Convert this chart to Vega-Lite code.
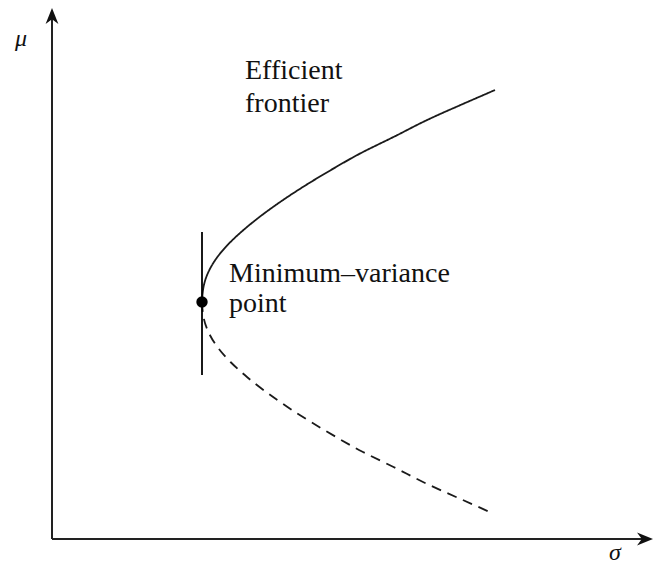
{
  "$schema": "https://vega.github.io/schema/vega-lite/v6.json",
  "width": 600,
  "height": 530,
  "autosize": {"type": "none"},
  "padding": {"left": 52, "top": 9, "right": 3, "bottom": 28},
  "background": "white",
  "config": {"view": {"stroke": null}, "text": {"font": "Liberation Serif"}},
  "datasets": {
    "curve": [
      {"sigma": 1.500, "mu": 2.37, "branch": "efficient", "ord": 0},
      {"sigma": 1.515, "mu": 2.52, "branch": "efficient", "ord": 1},
      {"sigma": 1.564, "mu": 2.67, "branch": "efficient", "ord": 2},
      {"sigma": 1.654, "mu": 2.82, "branch": "efficient", "ord": 3},
      {"sigma": 1.785, "mu": 2.97, "branch": "efficient", "ord": 4},
      {"sigma": 1.950, "mu": 3.12, "branch": "efficient", "ord": 5},
      {"sigma": 2.141, "mu": 3.27, "branch": "efficient", "ord": 6},
      {"sigma": 2.355, "mu": 3.42, "branch": "efficient", "ord": 7},
      {"sigma": 2.589, "mu": 3.57, "branch": "efficient", "ord": 8},
      {"sigma": 2.841, "mu": 3.72, "branch": "efficient", "ord": 9},
      {"sigma": 3.110, "mu": 3.87, "branch": "efficient", "ord": 10},
      {"sigma": 3.415, "mu": 4.02, "branch": "efficient", "ord": 11},
      {"sigma": 3.710, "mu": 4.17, "branch": "efficient", "ord": 12},
      {"sigma": 4.040, "mu": 4.32, "branch": "efficient", "ord": 13},
      {"sigma": 4.430, "mu": 4.49, "branch": "efficient", "ord": 14},
      {"sigma": 1.500, "mu": 2.37, "branch": "inefficient", "ord": 0},
      {"sigma": 1.515, "mu": 2.22, "branch": "inefficient", "ord": 1},
      {"sigma": 1.564, "mu": 2.07, "branch": "inefficient", "ord": 2},
      {"sigma": 1.654, "mu": 1.92, "branch": "inefficient", "ord": 3},
      {"sigma": 1.785, "mu": 1.77, "branch": "inefficient", "ord": 4},
      {"sigma": 1.950, "mu": 1.62, "branch": "inefficient", "ord": 5},
      {"sigma": 2.141, "mu": 1.47, "branch": "inefficient", "ord": 6},
      {"sigma": 2.355, "mu": 1.32, "branch": "inefficient", "ord": 7},
      {"sigma": 2.589, "mu": 1.17, "branch": "inefficient", "ord": 8},
      {"sigma": 2.841, "mu": 1.02, "branch": "inefficient", "ord": 9},
      {"sigma": 3.110, "mu": 0.87, "branch": "inefficient", "ord": 10},
      {"sigma": 3.415, "mu": 0.72, "branch": "inefficient", "ord": 11},
      {"sigma": 3.710, "mu": 0.57, "branch": "inefficient", "ord": 12},
      {"sigma": 4.040, "mu": 0.42, "branch": "inefficient", "ord": 13},
      {"sigma": 4.400, "mu": 0.26, "branch": "inefficient", "ord": 14}
    ],
    "axes": [
      {"sigma": 0, "mu": 0, "sigma2": 5.95, "mu2": 0},
      {"sigma": 0, "mu": 0, "sigma2": 0, "mu2": 5.25}
    ],
    "arrowUp": [{"sigma": 0, "mu": 5.31}],
    "arrowRight": [{"sigma": 6.01, "mu": 0}],
    "tangent": [{"sigma": 1.50, "mu": 1.64, "mu2": 3.07}],
    "minpoint": [{"sigma": 1.50, "mu": 2.37}],
    "labels": [
      {"sigma": 1.93, "mu": 4.60, "text": "Efficient"},
      {"sigma": 1.93, "mu": 4.27, "text": "frontier"},
      {"sigma": 1.77, "mu": 2.57, "text": "Minimum–variance"},
      {"sigma": 1.77, "mu": 2.27, "text": "point"}
    ],
    "greek": [
      {"sigma": -0.31, "mu": 4.93, "text": "μ"},
      {"sigma": 5.63, "mu": -0.21, "text": "σ"}
    ]
  },
  "layer": [
    {
      "data": {"name": "axes"},
      "mark": {"type": "rule", "color": "#222222", "strokeWidth": 2},
      "encoding": {
        "x": {"field": "sigma", "type": "quantitative", "scale": {"domain": [0, 6.0], "nice": false, "zero": false}, "axis": null},
        "y": {"field": "mu", "type": "quantitative", "scale": {"domain": [0, 5.3], "nice": false, "zero": false}, "axis": null},
        "x2": {"field": "sigma2"},
        "y2": {"field": "mu2"}
      }
    },
    {
      "data": {"name": "arrowUp"},
      "mark": {"type": "point", "filled": true, "color": "#111111", "opacity": 1, "size": 1024, "clip": false, "shape": "M0,0L-0.4,1L0,0.7L0.4,1Z"},
      "encoding": {
        "x": {"field": "sigma", "type": "quantitative"},
        "y": {"field": "mu", "type": "quantitative"}
      }
    },
    {
      "data": {"name": "arrowRight"},
      "mark": {"type": "point", "filled": true, "color": "#111111", "opacity": 1, "size": 1024, "clip": false, "shape": "M0,0L-1,-0.4L-0.7,0L-1,0.4Z"},
      "encoding": {
        "x": {"field": "sigma", "type": "quantitative"},
        "y": {"field": "mu", "type": "quantitative"}
      }
    },
    {
      "data": {"name": "curve"},
      "mark": {"type": "line", "color": "#1a1a1a", "strokeWidth": 1.8, "interpolate": "natural"},
      "encoding": {
        "x": {"field": "sigma", "type": "quantitative"},
        "y": {"field": "mu", "type": "quantitative"},
        "order": {"field": "ord", "type": "quantitative"},
        "detail": {"field": "branch", "type": "nominal"},
        "strokeDash": {"field": "branch", "type": "nominal", "scale": {"domain": ["efficient", "inefficient"], "range": [[1, 0], [10, 7]]}, "legend": null}
      }
    },
    {
      "data": {"name": "tangent"},
      "mark": {"type": "rule", "color": "#000000", "strokeWidth": 1.8},
      "encoding": {
        "x": {"field": "sigma", "type": "quantitative"},
        "y": {"field": "mu", "type": "quantitative"},
        "y2": {"field": "mu2"}
      }
    },
    {
      "data": {"name": "minpoint"},
      "mark": {"type": "point", "filled": true, "shape": "circle", "color": "#000000", "opacity": 1, "size": 130},
      "encoding": {
        "x": {"field": "sigma", "type": "quantitative"},
        "y": {"field": "mu", "type": "quantitative"}
      }
    },
    {
      "data": {"name": "labels"},
      "mark": {"type": "text", "align": "left", "baseline": "alphabetic", "font": "Liberation Serif", "fontSize": 28, "color": "#111111"},
      "encoding": {
        "x": {"field": "sigma", "type": "quantitative"},
        "y": {"field": "mu", "type": "quantitative"},
        "text": {"field": "text", "type": "nominal"}
      }
    },
    {
      "data": {"name": "greek"},
      "mark": {"type": "text", "align": "center", "baseline": "alphabetic", "font": "Liberation Serif", "fontStyle": "italic", "fontSize": 24, "color": "#111111"},
      "encoding": {
        "x": {"field": "sigma", "type": "quantitative"},
        "y": {"field": "mu", "type": "quantitative"},
        "text": {"field": "text", "type": "nominal"}
      }
    }
  ]
}
